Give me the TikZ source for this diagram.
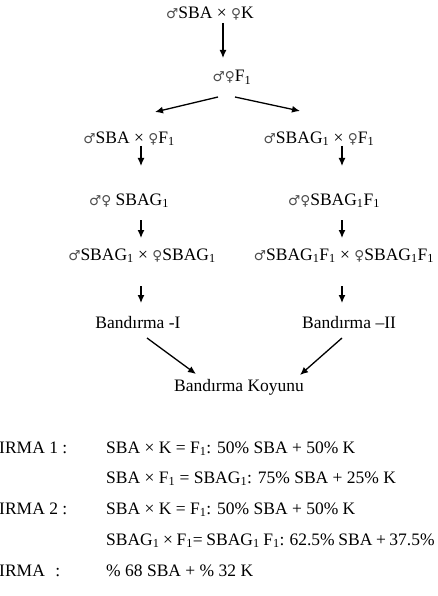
\documentclass[tikz,border=0pt]{standalone}
\usepackage{fontspec}
\setmainfont{Liberation Serif}
\newfontfamily\sexfont{DejaVu Sans}[Scale=0.78]
\newcommand{\erkek}{{\sexfont\color{black!70}♂}}
\newcommand{\disi}{{\sexfont\color{black!70}♀}}
\usetikzlibrary{arrows.meta,positioning}
\tikzstyle{txt}=[inner sep=0pt,text height=12pt,text depth=4pt,font=\fontsize{17.5}{21}\selectfont]
\tikzstyle{row}=[txt,anchor=west]
\tikzstyle{arr}=[-{Latex[length=8pt,width=7pt]},line width=1.3pt]

\begin{document}
\begin{tikzpicture}[x=1pt,y=-1pt]
\useasboundingbox (0,0) rectangle (438,596);
\clip (0,0) rectangle (438,596);
% crossing scheme
\node[txt] (cross) at (210,15) {\erkek SBA × \disi K};
\node[txt] (f1) at (232,78) {\erkek\disi F\textsubscript{1}};
\node[txt] (leftcross) at (129,139) {\erkek SBA × \disi F\textsubscript{1}};
\node[txt] (rightcross) at (319,139) {\erkek SBAG\textsubscript{1} × \disi F\textsubscript{1}};
\node[txt] (sbag) at (129,201) {\erkek\disi{} SBAG\textsubscript{1}};
\node[txt] (sbagf) at (334,201) {\erkek\disi SBAG\textsubscript{1}F\textsubscript{1}};
\node[txt] (leftmate) at (142,256) {\erkek SBAG\textsubscript{1} × \disi SBAG\textsubscript{1}};
\node[txt] (rightmate) at (344,256) {\erkek SBAG\textsubscript{1}F\textsubscript{1} × \disi SBAG\textsubscript{1}F\textsubscript{1}};
\node[txt] (band1) at (138,324) {Bandırma -I};
\node[txt] (band2) at (349,324) {Bandırma –II};
\node[txt] (koyun) at (239,387) {Bandırma Koyunu};
\draw[arr] ([shift={(13,8)}]cross.center) -- ([shift={(-9,-20)}]f1.center);
\draw[arr] ([shift={(-14,19)}]f1.center) -- ([shift={(26,-27)}]leftcross.center);
\draw[arr] ([shift={(3,19)}]f1.center) -- ([shift={(-19,-28)}]rightcross.center);
\draw[arr] ([shift={(12,7)}]leftcross.center) -- ([shift={(12,-35)}]sbag.center);
\draw[arr] ([shift={(23,7)}]rightcross.center) -- ([shift={(8,-35)}]sbagf.center);
\draw[arr] ([shift={(12,19)}]sbag.center) -- ([shift={(-1,-18)}]leftmate.center);
\draw[arr] ([shift={(8,19)}]sbagf.center) -- ([shift={(-2,-18)}]rightmate.center);
\draw[arr] ([shift={(-1,30)}]leftmate.center) -- ([shift={(3,-21)}]band1.center);
\draw[arr] ([shift={(-2,30)}]rightmate.center) -- ([shift={(-7,-21)}]band2.center);
\draw[arr] ([shift={(9,14)}]band1.center) -- ([shift={(-43,-13)}]koyun.center);
\draw[arr] ([shift={(-7,14)}]band2.center) -- ([shift={(61,-12)}]koyun.center);
% percentages
\node[row] (lab1) at (-1,449) {IRMA 1 :};
\node[row] (lab2) at (-1,510) {IRMA 2 :};
\node[row] (lab3) at (-1,572) {IRMA\hspace{10.5pt}:};
\node[row] (p1) at (106,449) {SBA × K = F\textsubscript{1}: 50\% SBA + 50\% K};
\node[row] (p2) at (106,479) {SBA × F\textsubscript{1} = SBAG\textsubscript{1}: 75\% SBA + 25\% K};
\node[row] (p3) at (106,510) {SBA × K = F\textsubscript{1}: 50\% SBA + 50\% K};
\node[row] (p4) at (106,541) {\spaceskip=3.6pt SBAG\textsubscript{1} × F\textsubscript{1}= SBAG\textsubscript{1} F\textsubscript{1}: 62.5\% SBA + 37.5\%};
\node[row] (p5) at (106,572) {\% 68 SBA + \% 32 K};
\end{tikzpicture}
\end{document}
